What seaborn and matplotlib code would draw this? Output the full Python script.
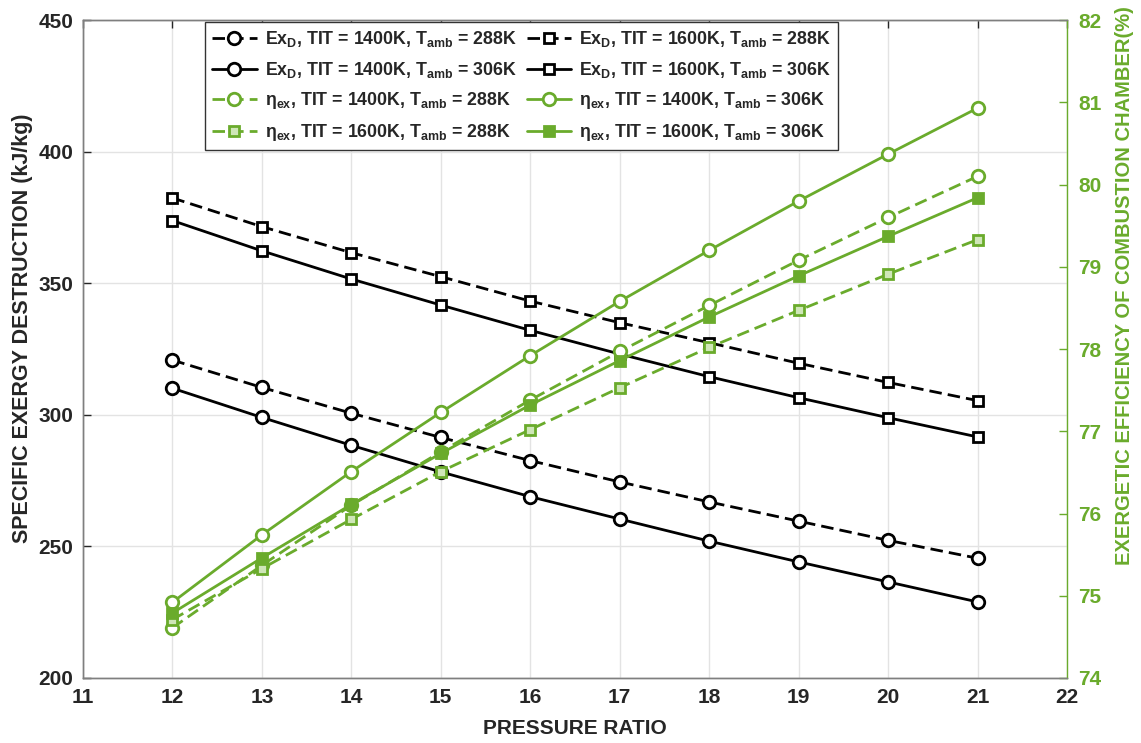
import numpy as np
import pandas as pd
import matplotlib
matplotlib.use("Agg")
import matplotlib.pyplot as plt
import seaborn as sns

# Pressure ratio
pressure_ratio = [12, 13, 14, 15, 16, 17, 18, 19, 20, 21]

# Specific exergy destruction (kJ/kg)
exd_1400_288 = [320.8, 310.4, 300.6, 291.4, 282.6, 274.5, 266.9, 259.6, 252.3, 245.5]
exd_1400_306 = [310.1, 299.0, 288.4, 278.3, 268.9, 260.4, 252.0, 244.1, 236.5, 228.9]
exd_1600_288 = [382.4, 371.5, 361.6, 352.5, 343.2, 335.0, 327.4, 319.6, 312.3, 305.4]
exd_1600_306 = [373.8, 362.3, 351.6, 341.7, 332.1, 323.1, 314.5, 306.5, 298.9, 291.6]

# Exergetic efficiency of combustion chamber (%)
eta_1400_288 = [74.61, 75.37, 76.10, 76.75, 77.38, 77.97, 78.53, 79.08, 79.60, 80.10]
eta_1400_306 = [74.92, 75.74, 76.51, 77.23, 77.92, 78.58, 79.20, 79.80, 80.37, 80.93]
eta_1600_288 = [74.71, 75.33, 75.93, 76.51, 77.02, 77.53, 78.02, 78.47, 78.91, 79.33]
eta_1600_306 = [74.79, 75.46, 76.11, 76.73, 77.32, 77.86, 78.39, 78.89, 79.37, 79.84]

left_ticks = [200, 250, 300, 350, 400, 450]
right_ticks = [74, 75, 76, 77, 78, 79, 80, 81, 82]
x_ticks = list(range(11, 23))

sns.set_style("white")
plt.rcParams["font.family"] = ["Liberation Sans", "DejaVu Sans"]
plt.rcParams["font.weight"] = "bold"
plt.rcParams["mathtext.fontset"] = "custom"
plt.rcParams["mathtext.rm"] = "Liberation Sans:bold"
plt.rcParams["mathtext.bf"] = "Liberation Sans:bold"
plt.rcParams["mathtext.it"] = "Liberation Sans:bold"
plt.rcParams["mathtext.default"] = "bf"

GREEN = "#6aab2c"
DARK = "#262626"
SPINE = "#7f7f7f"

fig = plt.figure(figsize=(11.41, 7.43), dpi=100)
ax = fig.add_axes([0.0727, 0.0875, 0.8625, 0.8855])
ax2 = ax.twinx()

dash = (0, (4.5, 2.2))

def draw(axis, values, label, color, marker, ls, ms, mfc):
    df = pd.DataFrame({"pr": pressure_ratio, "v": values})
    sns.lineplot(data=df, x="pr", y="v", ax=axis, color=color, marker=marker,
                 linestyle=ls, linewidth=2.0, markersize=ms, markeredgewidth=2.0,
                 markerfacecolor=mfc, markeredgecolor=color, label=label,
                 legend=False, zorder=3)

series = [
    (ax, exd_1400_288, r"Ex$_{D}$, TIT = 1400K, T$_{amb}$ = 288K", "black", "o", dash, 9, "white"),
    (ax, exd_1400_306, r"Ex$_{D}$, TIT = 1400K, T$_{amb}$ = 306K", "black", "o", "-", 9, "white"),
    (ax2, eta_1400_288, r"η$_{ex}$, TIT = 1400K, T$_{amb}$ = 288K", GREEN, "o", dash, 9, "white"),
    (ax2, eta_1600_288, r"η$_{ex}$, TIT = 1600K, T$_{amb}$ = 288K", GREEN, "s", dash, 7, "#cfe6b8"),
    (ax, exd_1600_288, r"Ex$_{D}$, TIT = 1600K, T$_{amb}$ = 288K", "black", "s", dash, 7.5, "white"),
    (ax, exd_1600_306, r"Ex$_{D}$, TIT = 1600K, T$_{amb}$ = 306K", "black", "s", "-", 7.5, "white"),
    (ax2, eta_1400_306, r"η$_{ex}$, TIT = 1400K, T$_{amb}$ = 306K", GREEN, "o", "-", 9, "white"),
    (ax2, eta_1600_306, r"η$_{ex}$, TIT = 1600K, T$_{amb}$ = 306K", GREEN, "s", "-", 7, GREEN),
]
for s in series:
    draw(*s)

ax.set_xlim(11, 22)
ax.set_ylim(200, 450)
ax2.set_ylim(74, 82)
ax.set_xticks(x_ticks)
ax.set_yticks(left_ticks)
ax2.set_yticks(right_ticks)

ax.grid(True, color="#e3e3e3", linewidth=1.0)
ax.set_axisbelow(True)

ax.tick_params(axis="both", direction="in", length=6, width=1, colors=DARK,
               labelsize=15, top=True, right=False, pad=7)
ax.tick_params(axis="x", pad=7)
ax2.tick_params(axis="y", direction="in", length=6, width=1, colors=GREEN,
                labelsize=15, pad=8)
for lab in ax.get_xticklabels() + ax.get_yticklabels():
    lab.set_fontweight("bold")
for lab in ax2.get_yticklabels():
    lab.set_fontweight("bold")

for name in ["left", "top", "bottom"]:
    ax.spines[name].set_color(SPINE)
    ax2.spines[name].set_color(SPINE)
ax.spines["right"].set_visible(False)
ax2.spines["right"].set_color(GREEN)
for sp in list(ax.spines.values()) + list(ax2.spines.values()):
    sp.set_linewidth(1.0)

ax.set_xlabel("PRESSURE RATIO", fontsize=15, fontweight="bold", color=DARK, labelpad=9)
ax.set_ylabel("SPECIFIC EXERGY DESTRUCTION (kJ/kg)", fontsize=15.5, fontweight="bold",
              color=DARK)
ax.yaxis.set_label_coords(-0.0508, 0.532)
ax2.set_ylabel("EXERGETIC EFFICIENCY OF COMBUSTION CHAMBER(%)", fontsize=14.5,
               fontweight="bold", color=GREEN)
ax2.yaxis.set_label_coords(1.0488, 0.597)

handles = [ln for a in (ax, ax2) for ln in a.get_lines()]
by_label = {h.get_label(): h for h in handles}
order = [s[2] for s in series]
leg = ax2.legend([by_label[l] for l in order], order, ncol=2, loc="upper left",
                 bbox_to_anchor=(0.124, 0.997), fontsize=12.8, frameon=True,
                 fancybox=False, edgecolor="#333333", framealpha=1,
                 handlelength=2.5, handletextpad=0.45, columnspacing=0.6,
                 labelspacing=0.6, borderpad=0.4, borderaxespad=0)
leg.get_frame().set_linewidth(1.0)
for t in leg.get_texts():
    t.set_fontweight("bold")

fig.savefig("out.png", dpi=100)
